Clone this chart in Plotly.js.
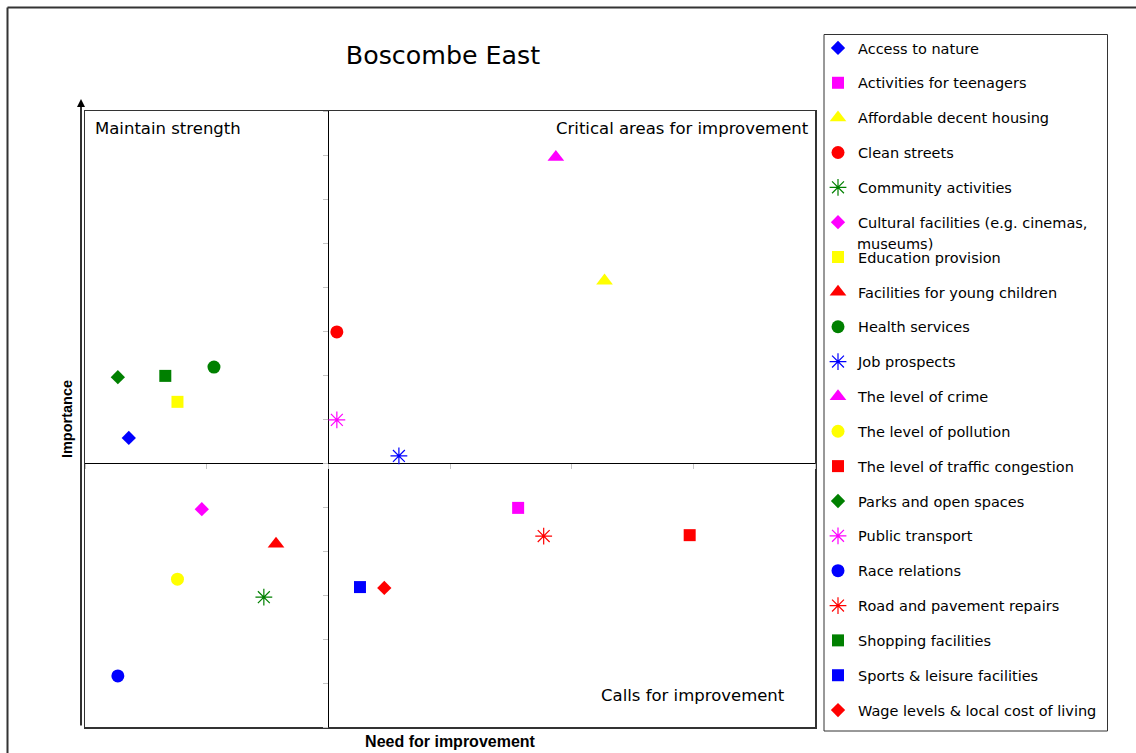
<!DOCTYPE html>
<html>
<head>
<meta charset="utf-8">
<script src="https://cdn.plot.ly/plotly-3.0.1.min.js"></script>
<style>
html,body{margin:0;padding:0;background:#fff;}
#chart{width:1136px;height:753px;}
</style>
</head>
<body>
<div id="chart"></div>
<script>
// ---- data (need for improvement, importance) ----
const names = [
  "Access to nature",
  "Activities for teenagers",
  "Affordable decent housing",
  "Clean streets",
  "Community activities",
  "Cultural facilities (e.g. cinemas, museums)",
  "Education provision",
  "Facilities for young children",
  "Health services",
  "Job prospects",
  "The level of crime",
  "The level of pollution",
  "The level of traffic congestion",
  "Parks and open spaces",
  "Public transport",
  "Race relations",
  "Road and pavement repairs",
  "Shopping facilities",
  "Sports & leisure facilities",
  "Wage levels & local cost of living"
];
const needValues = [-1.64, 1.56, 2.27, 0.07, -0.53, -1.04, -1.24, -0.43, -0.94, 0.58,
                     1.87, -1.24, 2.97, -1.73, 0.07, -1.73, 1.77, -1.34, 0.26, 0.46];
const importanceValues = [0.57, -1.02, 4.14, 2.98, -3.05, -1.05, 1.39, -1.84, 2.18, 0.16,
                          6.95, -2.64, -1.64, 1.95, 0.98, -4.84, -1.66, 1.98, -2.82, -2.84];
const colors = ["#0000FF","#FF00FF","#FFFF00","#FF0000","#008000","#FF00FF","#FFFF00","#FF0000","#008000","#0000FF",
                "#FF00FF","#FFFF00","#FF0000","#008000","#FF00FF","#0000FF","#FF0000","#008000","#0000FF","#FF0000"];
const symbols = ["diamond","square","triangle-up","circle","asterisk-open","diamond","square","triangle-up","circle","asterisk-open",
                 "triangle-up","circle","square","diamond","asterisk-open","circle","asterisk-open","square","square","diamond"];
const xRange = [-2, 4];
const yRange = [-6, 8];
const chartTitle = "Boscombe East";
const xTitle = "Need for improvement";
const yTitle = "Importance";
const quadrantLabels = ["Maintain strength", "Critical areas for improvement", "Calls for improvement"];

// ---- layout helpers (pixel -> paper) ----
const W = 1136, H = 753;
const M = {l: 85, r: 321, t: 111, b: 26};
const PW = W - M.l - M.r, PH = H - M.t - M.b;
const px = v => (v - M.l) / PW;
const py = v => (H - M.b - v) / PH;

const sizeFor = {"diamond": 11, "square": 12, "triangle-up": 14.5, "circle": 13, "asterisk-open": 14};
const FONT = "DejaVu Sans";
const LEGEND_SIZE = 14.5;

// wrap long legend names
const maxChars = 35;
const legendNames = [], wrapped = [];
names.forEach((n, i) => {
  if (n.length > maxChars) {
    const cut = n.lastIndexOf(" ", maxChars);
    legendNames.push(n.slice(0, cut));
    wrapped.push({i: i, rest: n.slice(cut + 1)});
  } else legendNames.push(n);
});

const traces = names.map((n, i) => ({
  type: "scatter",
  mode: "markers",
  name: legendNames[i],
  legendgroup: "g" + i,
  x: [needValues[i]],
  y: [importanceValues[i]],
  hovertext: [n],
  marker: {
    symbol: symbols[i],
    color: colors[i],
    size: sizeFor[symbols[i]],
    line: {color: colors[i], width: symbols[i] === "asterisk-open" ? 1.2 : 0}
  }
}));
// empty helper trace so the divider tick axes are drawn
traces.push({type: "scatter", mode: "markers", x: [], y: [], xaxis: "x2", yaxis: "y2",
             showlegend: false, hoverinfo: "skip"});

const itemPitch = 34.9;
const firstItem = 48;
const annotations = [
  {xref: "paper", yref: "paper", x: px(93), y: py(128), xanchor: "left", yanchor: "middle",
   text: quadrantLabels[0], showarrow: false, font: {family: FONT, size: 16.5, color: "#000"}},
  {xref: "paper", yref: "paper", x: px(811), y: py(128), xanchor: "right", yanchor: "middle",
   text: quadrantLabels[1], showarrow: false, font: {family: FONT, size: 16.5, color: "#000"}},
  {xref: "paper", yref: "paper", x: px(787), y: py(695), xanchor: "right", yanchor: "middle",
   text: quadrantLabels[2], showarrow: false, font: {family: FONT, size: 16.5, color: "#000"}},
  // vertical arrow
  {xref: "paper", yref: "paper", x: px(81), y: py(99), ax: 0, ay: 628, axref: "pixel", ayref: "pixel",
   text: "", showarrow: true, arrowhead: 2, arrowsize: 1, arrowwidth: 1.6, arrowcolor: "#000"}
];
wrapped.forEach(w => {
  annotations.push({xref: "paper", yref: "paper", x: px(855), y: py(firstItem + w.i * itemPitch + 21),
    xanchor: "left", yanchor: "middle", text: w.rest, showarrow: false,
    font: {family: FONT, size: LEGEND_SIZE, color: "#000"}});
});

const shapes = [
  // outer frame (top and left)
  {type: "line", xref: "paper", yref: "paper", x0: px(7.5), x1: px(1140), y0: py(7.5), y1: py(7.5),
   line: {color: "#333", width: 2}},
  {type: "line", xref: "paper", yref: "paper", x0: px(7.5), x1: px(7.5), y0: py(7.5), y1: py(760),
   line: {color: "#333", width: 2}},
  // legend box
  {type: "rect", xref: "paper", yref: "paper", x0: px(824), x1: px(1107.5), y0: py(731), y1: py(34.5),
   line: {color: "#333", width: 1}}
];

const layout = {
  width: W, height: H,
  margin: M,
  paper_bgcolor: "#fff", plot_bgcolor: "#fff",
  font: {family: FONT, color: "#000"},
  title: {text: chartTitle, x: 443 / W, xref: "container", xanchor: "center",
          y: 1 - 55 / H, yref: "container", yanchor: "middle",
          font: {family: FONT, size: 25.3, color: "#000"}},
  xaxis: {range: xRange, showgrid: false, zeroline: true, zerolinecolor: "#000", zerolinewidth: 1,
          showline: true, mirror: true, linecolor: "#333", linewidth: 1.5,
          showticklabels: false, ticks: "", fixedrange: true,
          title: {text: "<b>" + xTitle + "</b>", standoff: 8,
                  font: {family: "Liberation Sans", size: 16, color: "#000"}}},
  yaxis: {range: yRange, showgrid: false, zeroline: true, zerolinecolor: "#000", zerolinewidth: 1,
          showline: true, mirror: true, linecolor: "#333", linewidth: 1.5,
          showticklabels: false, ticks: "", fixedrange: true,
          title: {text: "<b>" + yTitle + "</b>", standoff: 7,
                  font: {family: "Liberation Sans", size: 14.5, color: "#000"}}},
  // faint tick marks along the quadrant dividers
  xaxis2: {range: xRange, overlaying: "x", anchor: "free", position: py(463), side: "bottom",
           showgrid: false, zeroline: false, showline: false, showticklabels: false,
           ticks: "outside", ticklen: 5, tickwidth: 1, tickcolor: "#c4c4c4", dtick: 1, tick0: 0, fixedrange: true},
  yaxis2: {range: yRange, overlaying: "y", anchor: "free", position: px(328), side: "left",
           showgrid: false, zeroline: false, showline: false, showticklabels: false,
           ticks: "outside", ticklen: 5, tickwidth: 1, tickcolor: "#c4c4c4", dtick: 1, tick0: 0, fixedrange: true},
  showlegend: true,
  legend: {x: px(818), xanchor: "left", y: py(32), yanchor: "top",
           traceorder: "grouped", tracegroupgap: 13.0, maxheight: 740,
           bgcolor: "rgba(0,0,0,0)", borderwidth: 0,
           font: {family: FONT, size: LEGEND_SIZE, color: "#000"}},
  annotations: annotations,
  shapes: shapes
};

Plotly.newPlot("chart", traces, layout, {displayModeBar: false, staticPlot: true});
</script>
</body>
</html>
